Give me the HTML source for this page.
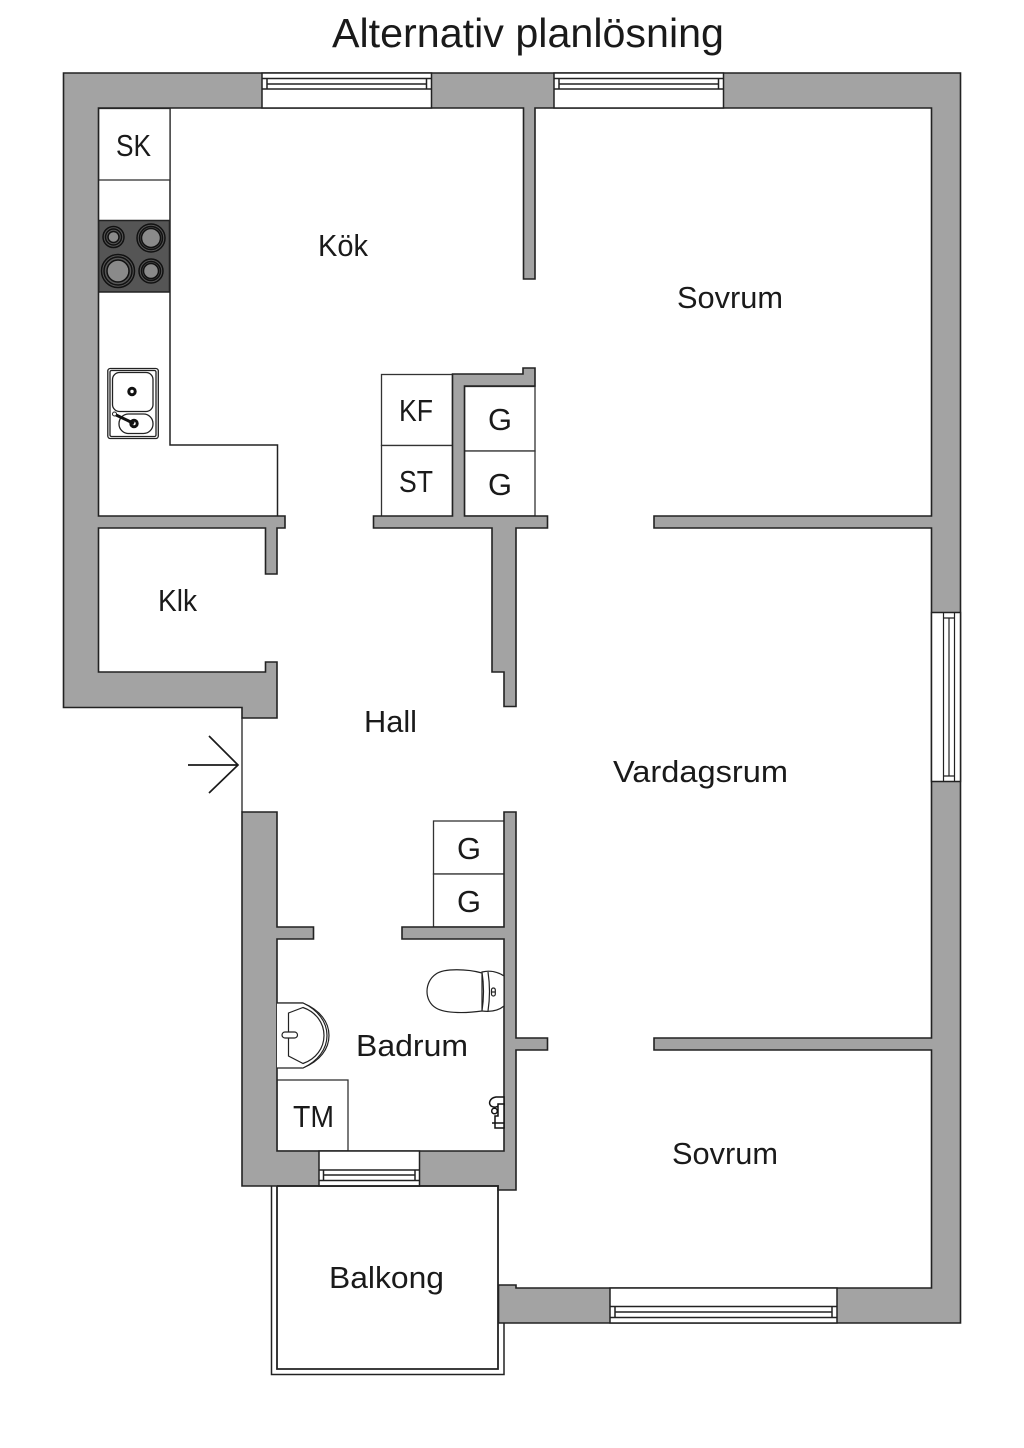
<!DOCTYPE html>
<html><head><meta charset="utf-8"><title>Alternativ planlösning</title>
<style>html,body{margin:0;padding:0;background:#fff}svg{display:block}
text{font-family:"Liberation Sans",sans-serif;font-size:31px;fill:#1a1a1a}
.w{fill:#a3a3a3;stroke:#222;stroke-width:1.6;stroke-linejoin:miter}
.l{fill:#fff;stroke:#333;stroke-width:1.3}
.n{fill:none;stroke:#222;stroke-width:1.5}
.win{fill:#fff;stroke:#222;stroke-width:1.5}
</style></head><body>
<svg xmlns="http://www.w3.org/2000/svg" width="1024" height="1448" viewBox="0 0 1024 1448">
<rect width="1024" height="1448" fill="#fff"/>
<text x="332" y="47" style="font-size:41px" textLength="392" lengthAdjust="spacingAndGlyphs">Alternativ planlösning</text>

<!-- cabinets and counters -->
<path class="n" d="M170,108V445H277.500V516"/>
<rect class="l" x="98.500" y="108.500" width="71.500" height="71.500"/>
<rect class="l" x="381.500" y="374.500" width="71" height="71"/>
<rect class="l" x="381.500" y="445.500" width="71" height="71"/>
<rect class="l" x="464.500" y="386.500" width="70.500" height="64.500"/>
<rect class="l" x="464.500" y="451" width="70.500" height="65"/>
<rect class="l" x="433.500" y="821" width="71" height="53"/>
<rect class="l" x="433.500" y="874" width="71" height="53"/>
<rect class="l" x="277" y="1080" width="71" height="71"/>

<!-- stove -->
<rect x="98.500" y="220.500" width="71" height="71.500" fill="#555" stroke="#222" stroke-width="1.500"/>
<g stroke="#111" stroke-width="1.500">
<circle cx="113.500" cy="237" r="10.500" fill="#555"/><circle cx="113.500" cy="237" r="8" fill="#555"/><circle cx="113.500" cy="237" r="5.500" fill="#8a8a8a"/>
<circle cx="151" cy="238" r="14" fill="#555"/><circle cx="151" cy="238" r="11.500" fill="#555"/><circle cx="151" cy="238" r="9.500" fill="#8a8a8a"/>
<circle cx="118" cy="271" r="16.500" fill="#555"/><circle cx="118" cy="271" r="14" fill="#555"/><circle cx="118" cy="271" r="11" fill="#8a8a8a"/>
<circle cx="151" cy="271" r="12" fill="#555"/><circle cx="151" cy="271" r="9.500" fill="#555"/><circle cx="151" cy="271" r="7.500" fill="#8a8a8a"/>
</g>

<!-- kitchen sink -->
<g fill="#fff" stroke="#222" stroke-width="1.300">
<rect x="107.800" y="368.500" width="50.500" height="70" rx="2.500"/>
<rect x="110" y="370.500" width="46" height="66" rx="1.500"/>
<rect x="112.500" y="372.500" width="40.500" height="39" rx="7"/>
<rect x="119" y="414" width="34" height="19.500" rx="9.500"/>
<circle cx="132" cy="391.500" r="3.200" stroke="#111" stroke-width="3"/>
<circle cx="134" cy="423.500" r="3.200" stroke="#111" stroke-width="3"/>
<path d="M114,414L134,423.500" stroke-width="3" stroke="#111"/>
<circle cx="114.500" cy="414" r="2" stroke-width="1"/>
</g>

<!-- main walls -->
<path class="w" d="M63.500,73H960.500V1323H498.500V1285H516V1288H931.500V1050H654V1038H931.500V528H654V516H931.500V108H535V279H523.500V108H98.500V516H285V528H277V574H265.500V528H98.500V672H265.500V662H277V718H242V707.500H63.500Z"/>
<path class="w" d="M535,368H523V374H452.500V516H373.500V528H492V672H504V706.500H516V528H547.500V516H464.500V386H535Z"/>
<path class="w" d="M242,812H277V927H313.500V939H277V1151H504V939H402V927H504V812H516V1038H547.500V1050H516V1190H498V1186H242Z"/>

<!-- windows -->
<g>
<rect class="win" x="262" y="73" width="169.500" height="35"/>
<path class="n" d="M262,78.500H431.500M262,89H431.500M267,84H426.500M267,78.500V89M426.500,78.500V89"/>
<rect class="win" x="554" y="73" width="169.500" height="35"/>
<path class="n" d="M554,78.500H723.500M554,89H723.500M559,84H718.500M559,78.500V89M718.500,78.500V89"/>
<rect class="win" x="931.500" y="612.500" width="29" height="169"/>
<path class="n" d="M943.500,612.500V781.500M954.500,612.500V781.500M949,618V776M943.500,618H954.500M943.500,776H954.500" style="stroke-width:1.200"/>
<rect class="win" x="610" y="1288" width="227" height="35"/>
<path class="n" d="M610,1306.500H837M610,1317.500H837M615,1312H832M615,1306.500V1317.500M832,1306.500V1317.500"/>
<rect class="win" x="319" y="1151" width="100.500" height="35"/>
<path class="n" d="M319,1170H419.500M319,1180.500H419.500M323.500,1175H415M323.500,1170V1180.500M415,1170V1180.500"/>
</g>

<!-- entrance -->
<path d="M242,718V812" stroke="#222" stroke-width="1.300" fill="none"/>
<path d="M188,765H238M209,736L238,765L209,793" fill="none" stroke="#1a1a1a" stroke-width="1.700"/>

<!-- balcony -->
<path class="n" d="M277,1186V1369H498V1186H277" style="stroke-width:1.800"/>
<path class="n" d="M271.500,1186V1374.500H504V1323"/>

<!-- toilet -->
<g fill="#fff" stroke="#222" stroke-width="1.200">
<path d="M482,973C468,969 444,968 436,974C424,982 424,1001 436,1008C446,1014 468,1013 482,1011Z"/>
<path d="M482,972C490,970 498,972 504,976V1006C498,1011 490,1012 482,1011C484,998 484,985 482,972Z"/>
<path d="M488,972C490,985 490,998 488,1011"/>
<rect x="491.500" y="988" width="3.800" height="8" rx="1.900"/>
<path d="M491.500,992H495.300"/>
</g>

<!-- basin -->
<g fill="#fff" stroke="#222" stroke-width="1.200">
<path d="M277,1003H303C320,1010 329,1022 329,1035.500C329,1049 320,1061 303,1068H277"/>
<path d="M277,1003H303C318,1010 327,1022 327,1035.500C327,1049 318,1061 303,1068"/>
<path d="M288.500,1013L303,1007.500C316,1012 324,1023 324,1035.500C324,1048 316,1059 303,1063.500L288.500,1056Z" fill="none"/>
<rect x="282" y="1032" width="15.500" height="6" rx="3"/>
</g>

<!-- shower mixer -->
<g fill="#fff" stroke="#111" stroke-width="1.500">
<path d="M504,1097H496C490,1098 488,1103 491,1106C494,1108 498,1107 500,1105H504Z"/>
<circle cx="494.500" cy="1111" r="2.800"/>
<path d="M498,1104H504V1128H495V1116H498Z"/>
<path d="M492,1123H504"/>
</g>

<!-- labels -->
<text x="116" y="156" textLength="35" lengthAdjust="spacingAndGlyphs">SK</text>
<text x="318" y="256" textLength="50" lengthAdjust="spacingAndGlyphs">Kök</text>
<text x="677" y="308" textLength="106" lengthAdjust="spacingAndGlyphs">Sovrum</text>
<text x="399" y="421" textLength="34" lengthAdjust="spacingAndGlyphs">KF</text>
<text x="399" y="492" textLength="34" lengthAdjust="spacingAndGlyphs">ST</text>
<text x="488" y="430" textLength="24" lengthAdjust="spacingAndGlyphs">G</text>
<text x="488" y="495" textLength="24" lengthAdjust="spacingAndGlyphs">G</text>
<text x="158" y="611" textLength="39" lengthAdjust="spacingAndGlyphs">Klk</text>
<text x="364" y="732" textLength="53" lengthAdjust="spacingAndGlyphs">Hall</text>
<text x="613" y="782" textLength="175" lengthAdjust="spacingAndGlyphs">Vardagsrum</text>
<text x="457" y="859" textLength="24" lengthAdjust="spacingAndGlyphs">G</text>
<text x="457" y="912" textLength="24" lengthAdjust="spacingAndGlyphs">G</text>
<text x="356" y="1056" textLength="112" lengthAdjust="spacingAndGlyphs">Badrum</text>
<text x="293" y="1127" textLength="41" lengthAdjust="spacingAndGlyphs">TM</text>
<text x="672" y="1164" textLength="106" lengthAdjust="spacingAndGlyphs">Sovrum</text>
<text x="329" y="1288" textLength="115" lengthAdjust="spacingAndGlyphs">Balkong</text>
</svg>
</body></html>
